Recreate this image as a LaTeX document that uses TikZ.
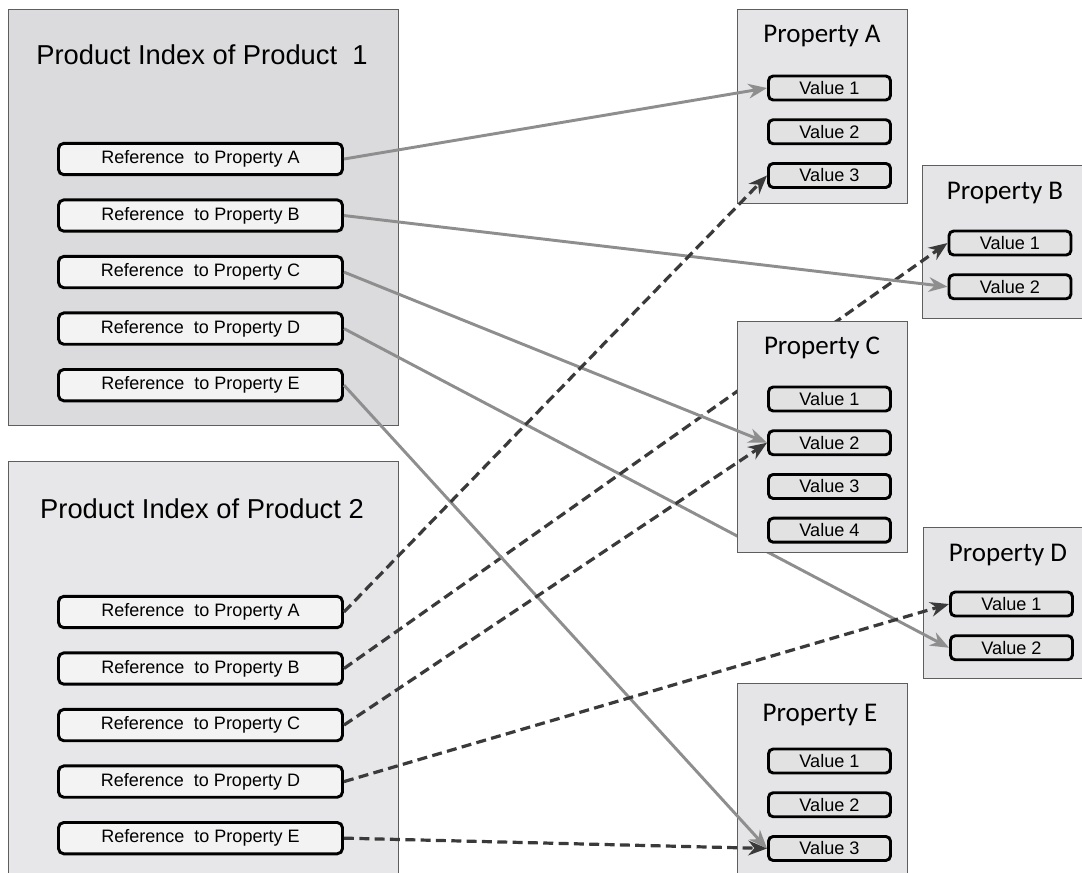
\documentclass[tikz,border=0pt]{standalone}
\usepackage{fontspec}
\setmainfont{Liberation Sans}
\newfontfamily\headfont{Carlito}
\usetikzlibrary{arrows.meta,positioning}

\definecolor{indexone}{HTML}{DBDBDD}
\definecolor{indextwo}{HTML}{E7E7E9}
\definecolor{propfill}{HTML}{E5E5E7}
\definecolor{reffill}{HTML}{F3F3F3}
\definecolor{valfill}{HTML}{E2E2E3}
\definecolor{framegray}{HTML}{5E5E5E}
\definecolor{linkgray}{HTML}{8E8E8E}
\definecolor{linkdark}{HTML}{3A3A3A}

\begin{document}
\begin{tikzpicture}[
    x=0.75pt, y=-0.75pt,
    idxbox/.style={rectangle, draw=framegray, line width=1pt, anchor=north west, minimum width=292.5pt, inner sep=0pt},
    propbox/.style={rectangle, draw=framegray, line width=0.9pt, fill=propfill, anchor=north west, inner sep=0pt},
    refbox/.style={rectangle, rounded corners=4pt, draw=black, line width=2.2pt, fill=reffill, minimum width=213pt, minimum height=23.5pt, font=\fontsize{13.5}{16}\selectfont},
    valbox/.style={rectangle, rounded corners=3.5pt, draw=black, line width=2.2pt, fill=valfill, minimum width=91.5pt, minimum height=18pt, font=\fontsize{13.6}{16}\selectfont},
    idxtitle/.style={font=\fontsize{20.5}{24}\selectfont},
    proptitle/.style={font=\headfont\fontsize{20.25}{24}\selectfont},
    solidlink/.style={draw=linkgray, line width=2.2pt, -{Stealth[length=14pt,width=11pt,inset=4.5pt]}},
    dashlink/.style={draw=linkdark, line width=2.4pt, dash pattern=on 7.5pt off 4pt, -{Stealth[length=14pt,width=11pt,inset=4.5pt]}},
    node distance=16.7pt
]
\useasboundingbox (0,0) rectangle (1082,872);

% Product index 1
\node[idxbox, fill=indexone, minimum height=312pt] (index1) at (8,9) {};
\node[idxtitle] (title1) at (202,55) {Product Index of Product\ \ 1};
\node[refbox] (r1a) at (200.5,159) {Reference\ \ to Property A};
\node[refbox, below=of r1a] (r1b) {Reference\ \ to Property B};
\node[refbox, below=of r1b] (r1c) {Reference\ \ to Property C};
\node[refbox, below=of r1c] (r1d) {Reference\ \ to Property D};
\node[refbox, below=of r1d] (r1e) {Reference\ \ to Property E};

% Product index 2
\node[idxbox, fill=indextwo, minimum height=316pt] (index2) at (8,461) {};
\node[idxtitle] (title2) at (202,509) {Product Index of Product 2};
\node[refbox] (r2a) at (200.5,612) {Reference\ \ to Property A};
\node[refbox, below=of r2a] (r2b) {Reference\ \ to Property B};
\node[refbox, below=of r2b] (r2c) {Reference\ \ to Property C};
\node[refbox, below=of r2c] (r2d) {Reference\ \ to Property D};
\node[refbox, below=of r2d] (r2e) {Reference\ \ to Property E};

% Property A
\node[propbox, minimum width=127.5pt, minimum height=145.5pt] (propA) at (737,9) {};
\node[proptitle] (titleA) at (822,36) {Property A};
\node[valbox] (a1) at (829.5,88) {Value 1};
\node[valbox, below=12.6pt of a1] (a2) {Value 2};
\node[valbox, below=12.6pt of a2] (a3) {Value 3};

% Property B
\node[propbox, minimum width=122.25pt, minimum height=114.75pt] (propB) at (922,165) {};
\node[proptitle] (titleB) at (1005,193) {Property B};
\node[valbox] (b1) at (1010,243) {Value 1};
\node[valbox, below=12.6pt of b1] (b2) {Value 2};

% Property D
\node[propbox, minimum width=121.5pt, minimum height=113.25pt] (propD) at (923,527) {};
\node[proptitle] (titleD) at (1008,555) {Property D};
\node[valbox] (d1) at (1011.5,604) {Value 1};
\node[valbox, below=12.6pt of d1] (d2) {Value 2};

% Property E
\node[propbox, minimum width=127.5pt, minimum height=147.75pt] (propE) at (737,683) {};
\node[proptitle] (titleE) at (820,715) {Property E};
\node[valbox] (e1) at (829.5,761) {Value 1};
\node[valbox, below=12.6pt of e1] (e2) {Value 2};
\node[valbox, below=12.6pt of e2] (e3) {Value 3};

% Arrows running under Property C
\draw[solidlink] (r1d.east) -- (d2.west);
\draw[dashlink] (r2b.east) -- (b1.west);

% Property C
\node[propbox, minimum width=127.5pt, minimum height=173.25pt] (propC) at (737,321) {};
\node[proptitle] (titleC) at (822,348) {Property C};
\node[valbox] (c1) at (829.5,399) {Value 1};
\node[valbox, below=12.6pt of c1] (c2) {Value 2};
\node[valbox, below=12.6pt of c2] (c3) {Value 3};
\node[valbox, below=12.6pt of c3] (c4) {Value 4};

% Arrows
\draw[solidlink] (r1a.east) -- (a1.west);
\draw[solidlink] (r1b.east) -- (b2.west);
\draw[solidlink] (r1c.east) -- (c2.west);
\draw[solidlink] (r1e.east) -- (e3.west);
\draw[dashlink] (r2a.east) -- (a3.west);
\draw[dashlink] (r2c.east) -- (c2.west);
\draw[dashlink] (r2d.east) -- (d1.west);
\draw[dashlink] (r2e.east) -- (e3.west);

\end{tikzpicture}
\end{document}
